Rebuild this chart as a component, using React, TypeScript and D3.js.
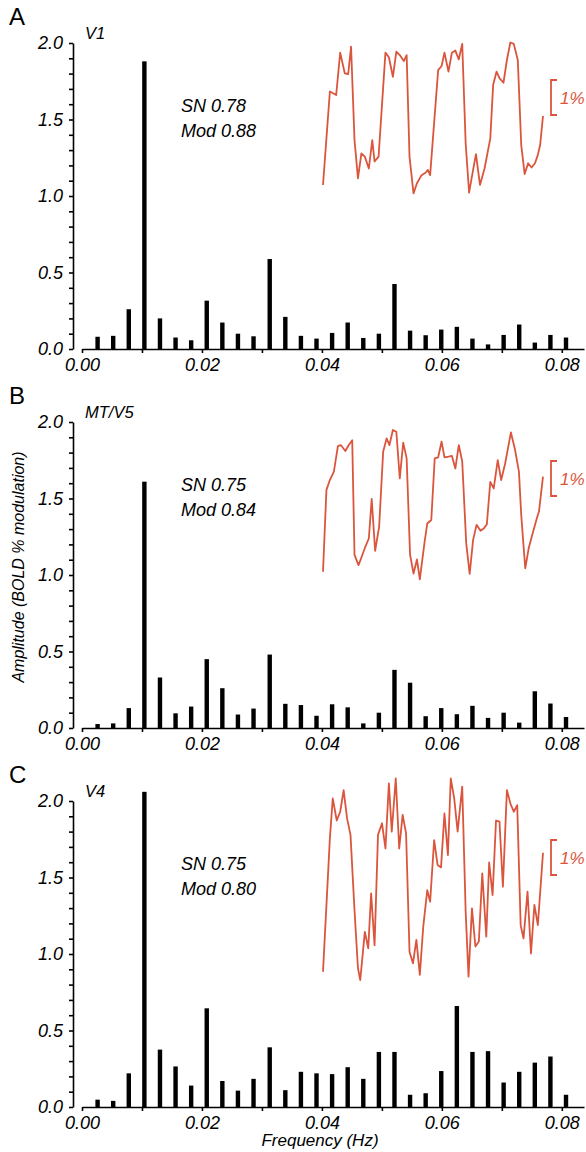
import React, { useEffect, useRef } from 'react';
import * as d3 from 'd3';

// frequencies of the spectral bins (Hz)
const freqs = [
  0.0026, 0.0052, 0.0078, 0.0104, 0.0130, 0.0156, 0.0182, 0.0208, 0.0234, 0.0260,
  0.0286, 0.0313, 0.0339, 0.0365, 0.0391, 0.0417, 0.0443, 0.0469, 0.0495, 0.0521,
  0.0547, 0.0573, 0.0599, 0.0625, 0.0651, 0.0677, 0.0703, 0.0729, 0.0755, 0.0781, 0.0807,
];

// amplitude (BOLD % modulation) per bin
const ampV1 = [
  0.08, 0.086, 0.26, 1.88, 0.20, 0.075, 0.057, 0.316, 0.173, 0.10,
  0.083, 0.588, 0.21, 0.086, 0.068, 0.105, 0.173, 0.072, 0.10, 0.425,
  0.12, 0.09, 0.127, 0.145, 0.068, 0.03, 0.092, 0.16, 0.042, 0.092, 0.075,
];
const ampMT = [
  0.026, 0.03, 0.13, 1.61, 0.33, 0.096, 0.14, 0.45, 0.26, 0.088,
  0.127, 0.48, 0.158, 0.15, 0.08, 0.155, 0.135, 0.03, 0.10, 0.38,
  0.296, 0.077, 0.13, 0.09, 0.145, 0.066, 0.10, 0.035, 0.24, 0.16, 0.072,
];
const ampV4 = [
  0.048, 0.04, 0.22, 2.06, 0.375, 0.265, 0.14, 0.645, 0.17, 0.107,
  0.184, 0.39, 0.11, 0.23, 0.22, 0.215, 0.26, 0.184, 0.36, 0.36,
  0.08, 0.09, 0.235, 0.66, 0.36, 0.365, 0.16, 0.23, 0.29, 0.33, 0.08,
];

// inset time courses: time (s) and BOLD (%)
const traceTimeV1 = [
  0, 12, 23, 30, 38, 44, 49, 55, 61, 67, 73, 80, 86, 90, 97, 109, 115, 122, 128, 134,
  141, 146, 151, 158, 164, 172, 179, 183, 187, 201, 207, 212, 219, 225, 231, 237, 243, 249, 255, 262,
  267, 274, 282, 292, 297, 303, 308, 315, 321, 327, 333, 340, 346, 352, 358, 364, 370, 375, 379, 384,
];
const traceV1 = [
  -1.57, 1.10, 1.00, 2.21, 1.62, 1.60, 2.38, -0.29, -1.38, -0.67, -0.76, -1.10, -0.29, -0.90, -0.76, 2.21, 2.08, 1.52, 2.24, 2.14,
  1.97, 2.14, -0.76, -1.81, -1.52, -1.29, -1.22, -1.14, -1.29, 1.71, 1.83, 2.21, 1.67, 2.21, 2.27, 2.02, 2.46, -0.38, -1.79, -1.14,
  -0.69, -1.57, -1.10, -0.24, 1.29, 1.67, 1.48, 1.35, 2.00, 2.50, 2.46, 2.00, -0.43, -1.26, -0.95, -1.07, -0.95, -0.71, -0.43, 0.40,
];
const traceTimeMT = [
  0, 6, 12, 19, 26, 31, 39, 45, 51, 55, 62, 68, 74, 80, 85, 91, 98, 105, 111, 116,
  122, 128, 134, 140, 146, 152, 158, 164, 169, 177, 182, 189, 195, 201, 207, 212, 219, 225, 231, 237,
  243, 250, 256, 262, 268, 275, 281, 286, 292, 298, 305, 311, 318, 328, 335, 342, 346, 353, 359, 366,
  374, 377, 384,
];
const traceMT = [
  -2.05, 0.29, 0.57, 0.81, 1.54, 1.57, 1.40, 1.57, 1.71, -1.57, -1.86, -1.60, -1.33, -1.10, 0.03, -1.45, -0.76, 1.38, 1.76, 1.57,
  2.00, 1.95, 0.62, 1.64, 1.19, -1.57, -2.10, -1.70, -2.27, -1.24, -0.67, -0.57, 1.19, 1.22, 1.67, 1.22, 1.24, 1.26, 0.90, 1.57,
  1.10, -1.24, -2.11, -1.14, -0.71, -0.88, -0.81, -0.69, 0.52, 0.33, 1.14, 0.57, 1.05, 1.93, 1.45, 0.81, -0.43, -1.95, -1.38, -0.95,
  -0.48, -0.33, 0.67,
];
const traceTimeV4 = [
  0, 12, 17, 24, 30, 36, 42, 48, 55, 61, 65, 73, 79, 84, 90, 96, 103, 109, 115, 120,
  127, 133, 139, 145, 151, 157, 163, 169, 175, 182, 187, 194, 200, 206, 212, 218, 223, 229, 235, 243,
  249, 254, 260, 266, 272, 278, 285, 290, 296, 302, 308, 314, 321, 327, 333, 339, 345, 350, 357, 363,
  369, 375, 384,
];
const traceV4 = [
  -2.62, 1.19, 2.33, 1.70, 1.95, 2.57, 1.76, 1.29, -0.86, -2.52, -2.86, -1.48, -1.95, -0.38, -1.86, 1.29, 1.62, 0.90, 2.76, 1.38,
  2.90, 0.90, 1.86, 1.33, -2.05, -2.38, -1.71, -2.71, -1.33, -0.29, -0.62, 1.14, 0.43, 0.36, 1.90, 0.71, 2.90, 2.33, 1.38, 2.67,
  -0.90, -2.76, -0.81, -1.90, -1.76, 0.19, -1.62, 0.50, -0.43, 1.70, 1.67, -0.19, 2.57, 2.19, 1.95, 2.14, -1.29, -1.67, -0.33, -2.10,
  -0.71, -1.29, 0.78,
];

const panelLetters = ['A', 'B', 'C'];
const areaNames = ['V1', 'MT/V5', 'V4'];
const snValues = ['0.78', '0.75', '0.75'];
const modValues = ['0.88', '0.84', '0.80'];
const yLabelTicks = [0, 0.5, 1, 1.5, 2];
const xLabelTicks = [0, 0.02, 0.04, 0.06, 0.08];

const panels = [
  { amp: ampV1, tt: traceTimeV1, tv: traceV1, traceMid: 130, barTop: 80 },
  { amp: ampMT, tt: traceTimeMT, tv: traceMT, traceMid: 121, barTop: 82 },
  { amp: ampV4, tt: traceTimeV4, tv: traceV4, traceMid: 122, barTop: 82 },
];

const FONT = '"Liberation Sans", Arial, Helvetica, sans-serif';
const RED = '#db553d';

export default function App() {
  const svgRef = useRef<SVGSVGElement>(null);

  useEffect(() => {
    const svg = d3.select(svgRef.current);
    svg.selectAll('*').remove(); // bersihkan dulu

    const x = d3.scaleLinear().domain([0, 0.0837]).range([82, 584]);
    const y = d3.scaleLinear().domain([0, 2]).range([349, 43]);
    const tx = d3.scaleLinear().domain([0, 384]).range([323, 543]);

    const yTickVals = d3.range(0, 21).map(d => d / 10);
    const xTickVals = d3.range(0, 9).map(d => d / 100);

    panels.forEach((p, i) => {
      const g = svg.append('g').attr('transform', `translate(0,${i * 379})`);

      // y axis
      const yAxis = d3.axisLeft(y)
        .tickValues(yTickVals)
        .tickSize(4)
        .tickSizeOuter(0)
        .tickPadding(6)
        .tickFormat(d => (yLabelTicks.includes(+d) ? d3.format('.1f')(+d) : ''));
      const ya = g.append('g').attr('transform', 'translate(73,0)').call(yAxis);
      ya.selectAll('text').style('font-family', FONT).style('font-style', 'italic')
        .style('font-size', '18px').attr('fill', '#000');
      ya.selectAll('line, path').attr('stroke', '#000').attr('stroke-width', 1.6);

      // x axis
      const xAxis = d3.axisBottom(x)
        .tickValues(xTickVals)
        .tickSize(4)
        .tickSizeOuter(0)
        .tickPadding(5)
        .tickFormat(d => (xLabelTicks.some(v => Math.abs(v - +d) < 1e-9) ? d3.format('.2f')(+d) : ''));
      const xa = g.append('g').attr('transform', 'translate(0,349)').call(xAxis);
      xa.selectAll('text').style('font-family', FONT).style('font-style', 'italic')
        .style('font-size', '18px').attr('fill', '#000');
      xa.selectAll('line, path').attr('stroke', '#000').attr('stroke-width', 1.6);

      // bars
      g.append('g').selectAll('rect')
        .data(p.amp)
        .join('rect')
        .attr('x', (_, j) => x(freqs[j]) - 2.2)
        .attr('width', 4.4)
        .attr('y', d => y(d))
        .attr('height', d => y(0) - y(d))
        .attr('fill', '#000');

      // labels
      g.append('text').attr('x', 9).attr('y', 25).text(panelLetters[i])
        .style('font-family', FONT).style('font-size', '24px').attr('fill', '#000');
      g.append('text').attr('x', 85).attr('y', 39).text(areaNames[i])
        .style('font-family', FONT).style('font-style', 'italic').style('font-size', '16.5px').attr('fill', '#000');
      g.append('text').attr('x', 181).attr('y', 112).text(`SN ${snValues[i]}`)
        .style('font-family', FONT).style('font-style', 'italic').style('font-size', '18px').attr('fill', '#000');
      g.append('text').attr('x', 181).attr('y', 137).text(`Mod ${modValues[i]}`)
        .style('font-family', FONT).style('font-style', 'italic').style('font-size', '18px').attr('fill', '#000');

      // inset time course
      const ty = d3.scaleLinear().domain([-1, 1]).range([p.traceMid + 35, p.traceMid - 35]);
      const line = d3.line<number>().x((_, j) => tx(p.tt[j])).y(d => ty(d));
      g.append('path').attr('d', line(p.tv) || '')
        .attr('fill', 'none').attr('stroke', RED).attr('stroke-width', 1.8)
        .attr('stroke-linejoin', 'round');

      // scale bar 1%
      const sb = d3.scaleLinear().domain([0, 1]).range([p.barTop + 35, p.barTop]);
      g.append('path')
        .attr('d', `M557,${sb(1)}H551V${sb(0)}H557`)
        .attr('fill', 'none').attr('stroke', RED).attr('stroke-width', 1.8);
      g.append('text').attr('x', 560).attr('y', sb(0.5) + 6).text('1%')
        .style('font-family', FONT).style('font-style', 'italic').style('font-size', '17px').attr('fill', RED);
    });

    // axis titles
    svg.append('text')
      .attr('transform', 'translate(24,567) rotate(-90)')
      .attr('text-anchor', 'middle')
      .text('Amplitude (BOLD % modulation)')
      .style('font-family', FONT).style('font-style', 'italic').style('font-size', '16px').attr('fill', '#000');
    svg.append('text')
      .attr('x', 320).attr('y', 1146)
      .attr('text-anchor', 'middle')
      .text('Frequency (Hz)')
      .style('font-family', FONT).style('font-style', 'italic').style('font-size', '17px').attr('fill', '#000');
  }, []);

  return (
    <svg ref={svgRef} width={586} height={1152}
      style={{ position: 'absolute', left: 0, top: 0, background: '#fff' }} />
  );
}
